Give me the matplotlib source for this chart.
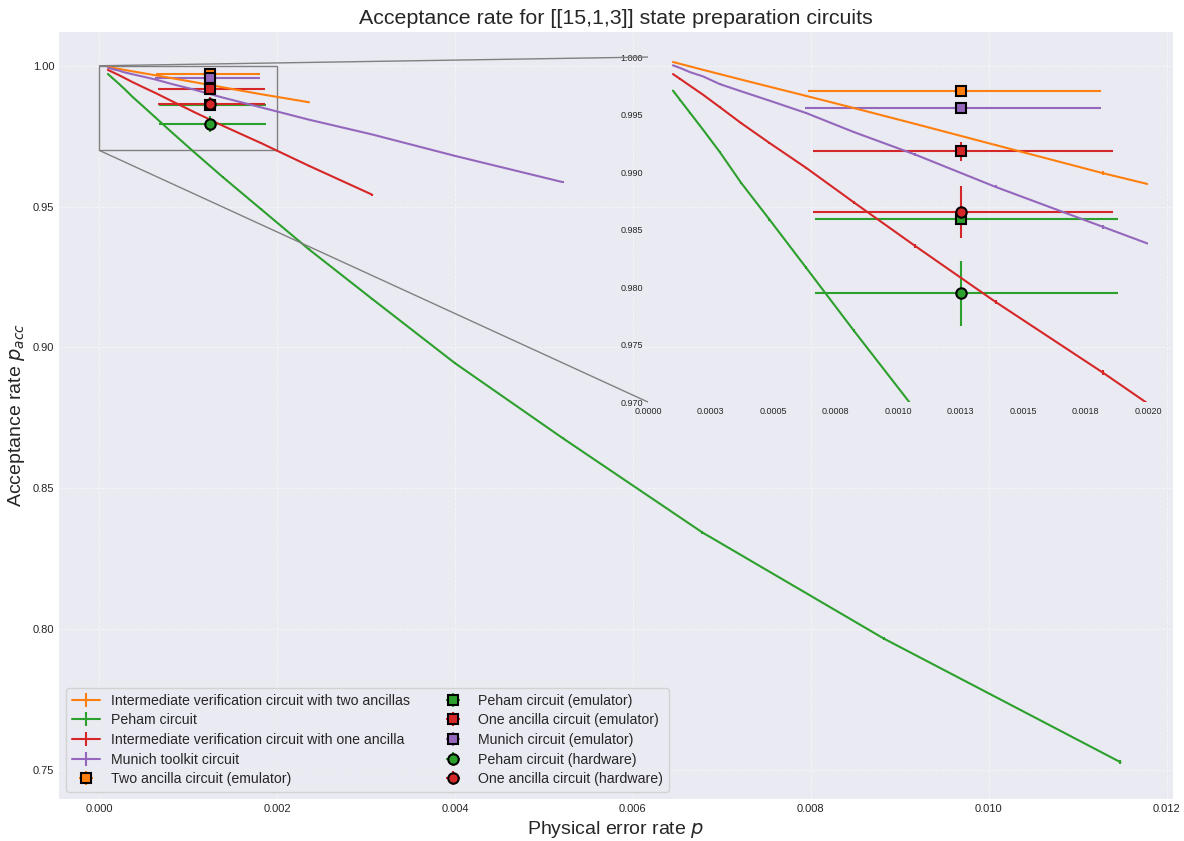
import matplotlib
matplotlib.use("Agg")
import matplotlib.pyplot as plt
from mpl_toolkits.axes_grid1.inset_locator import mark_inset

# ---- data ----
# physical error rates of the simulation sweep
p_sweep = [0.0001, 0.00013, 0.000169, 0.00022, 0.000287, 0.000373, 0.000486,
           0.000633, 0.000823, 0.00107, 0.00139, 0.00182, 0.00236, 0.00307,
           0.0040, 0.00521, 0.00678, 0.00882, 0.01148]

acc_two_anc = [0.99957, 0.99940, 0.99918, 0.99889, 0.99852, 0.99804, 0.99742,
               0.99662, 0.99557, 0.99418, 0.99235, 0.98990, 0.98705]
err_two_anc = [0.00002, 0.00002, 0.00003, 0.00003, 0.00004, 0.00005, 0.00006,
               0.00007, 0.00008, 0.0001, 0.00012, 0.00015, 0.00018]

acc_peham = [0.99708, 0.99623, 0.99513, 0.99369, 0.99175, 0.98905, 0.98587,
             0.98167, 0.97622, 0.9693, 0.9605, 0.9491, 0.9348, 0.9172,
             0.8944, 0.8678, 0.8343, 0.7966, 0.7527]
err_peham = [0.00004, 0.00005, 0.00006, 0.00007, 0.00008, 0.0001, 0.00012,
             0.00014, 0.00016, 0.0002, 0.00025, 0.0003, 0.00035, 0.0004,
             0.00045, 0.0005, 0.00055, 0.0006, 0.0007]

acc_one_anc = [0.99852, 0.99808, 0.99749, 0.99673, 0.99565, 0.99425, 0.99253,
               0.99036, 0.98737, 0.98355, 0.97871, 0.97255, 0.96446, 0.95422]
err_one_anc = [0.00003, 0.00004, 0.00005, 0.00006, 0.00007, 0.00008, 0.0001,
               0.00012, 0.00014, 0.00016, 0.0002, 0.00024, 0.0003, 0.00035]

acc_munich = [0.99928, 0.99904, 0.99868, 0.99832, 0.99765, 0.99702, 0.99621,
              0.99513, 0.99348, 0.99151, 0.98871, 0.98523, 0.98085, 0.97560,
              0.96800, 0.95869]
err_munich = [0.00002, 0.00003, 0.00003, 0.00004, 0.00005, 0.00006, 0.00007,
              0.00008, 0.0001, 0.00012, 0.00014, 0.00017, 0.0002, 0.00024,
              0.00028, 0.00032]

# emulator / hardware runs, all at p = 0.00125
p_run = 0.00125
run_labels = ["Two ancilla circuit (emulator)", "Peham circuit (emulator)",
              "One ancilla circuit (emulator)", "Munich circuit (emulator)",
              "Peham circuit (hardware)", "One ancilla circuit (hardware)"]
run_acc = [0.99702, 0.98593, 0.99180, 0.99560, 0.97944, 0.98653]
run_yerr = [0.0004, 0.0003, 0.00085, 0.0005, 0.0028, 0.00225]
run_xerr_lo = [0.00061, 0.00058, 0.00059, 0.00062, 0.00058, 0.00059]
run_xerr_hi = [0.00056, 0.00063, 0.00061, 0.00056, 0.00063, 0.00061]
run_marker = ["s", "s", "s", "s", "o", "o"]
run_color = ["#ff7f0e", "#2ca02c", "#d62728", "#9467bd", "#2ca02c", "#d62728"]

inset_xticks = [0.0, 0.00025, 0.0005, 0.00075, 0.001, 0.00125, 0.0015, 0.00175, 0.002]
inset_xticklabels = ["0.0000", "0.0003", "0.0005", "0.0008", "0.0010",
                     "0.0013", "0.0015", "0.0018", "0.0020"]
inset_yticks = [0.970, 0.975, 0.980, 0.985, 0.990, 0.995, 1.000]

curves = [
    ("Intermediate verification circuit with two ancillas", acc_two_anc, err_two_anc, "#ff7f0e"),
    ("Peham circuit", acc_peham, err_peham, "#2ca02c"),
    ("Intermediate verification circuit with one ancilla", acc_one_anc, err_one_anc, "#d62728"),
    ("Munich toolkit circuit", acc_munich, err_munich, "#9467bd"),
]


def draw(ax, with_labels=True):
    """시뮬레이션 곡선 + 에뮬레이터/하드웨어 측정점"""
    for label, acc, err, color in curves:
        ax.errorbar(p_sweep[:len(acc)], acc, yerr=err, color=color, lw=1.5,
                    label=label if with_labels else None)
    for i in range(len(run_acc)):
        ax.errorbar([p_run], [run_acc[i]], yerr=[run_yerr[i]],
                    xerr=[[run_xerr_lo[i]], [run_xerr_hi[i]]],
                    fmt=run_marker[i], color=run_color[i], mec="black", mew=1.5,
                    ms=7.5, lw=1.5, label=run_labels[i] if with_labels else None)


plt.style.use("seaborn-v0_8-dark")
plt.rcParams["font.family"] = ["Liberation Sans", "DejaVu Sans"]

fig = plt.figure(figsize=(11.84, 8.41), dpi=100)
ax = fig.add_axes([0.0498, 0.0499, 0.9409, 0.912])

draw(ax)
ax.set_xlim(-0.00045, 0.01207)
ax.grid(True, linestyle="--", linewidth=0.7, alpha=0.5)
ax.tick_params(labelsize=8)
ax.set_title("Acceptance rate for [[15,1,3]] state preparation circuits", fontsize=15.4)
ax.set_xlabel("Physical error rate $p$", fontsize=14)
ax.set_ylabel("Acceptance rate $p_{acc}$", fontsize=14)
ax.legend(loc="lower left", ncol=2, fontsize=10.2, labelspacing=0.4, frameon=True)

# zoomed inset (투명 배경, 자체 grid 없음)
axins = ax.inset_axes([0.5287, 0.5176, 0.4489, 0.4498])
draw(axins, with_labels=False)
axins.set_xlim(0, 0.002)
axins.set_ylim(0.970, 1.000)
axins.set_xticks(inset_xticks)
axins.set_xticklabels(inset_xticklabels)
axins.set_yticks(inset_yticks)
axins.set_yticklabels([f"{v:.3f}" for v in inset_yticks])
axins.tick_params(labelsize=6.5)
axins.set_facecolor("none")
axins.grid(False)
mark_inset(ax, axins, loc1=2, loc2=3, fc="none", ec="0.5")

plt.savefig("out.png", dpi=100)
